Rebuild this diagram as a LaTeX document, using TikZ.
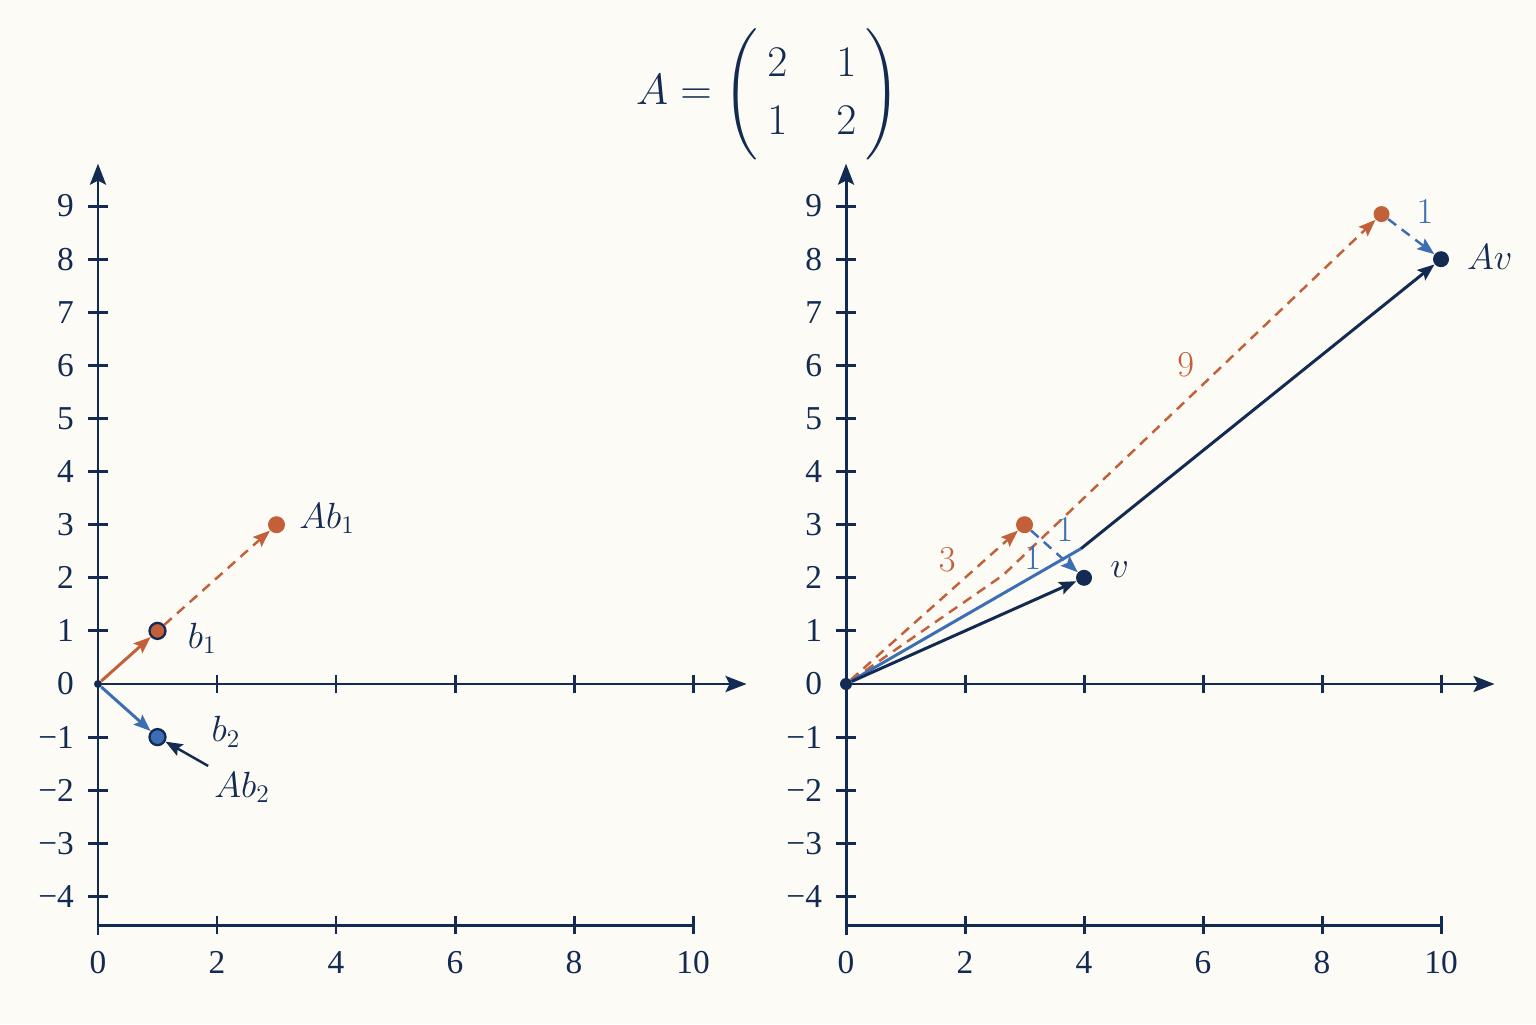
\documentclass[tikz,border=0pt]{standalone}
\usepackage{amsmath}
\usepackage{fontspec}
\usepackage{xcolor}
\usetikzlibrary{arrows.meta, positioning}
\newfontfamily\tickfont{Liberation Serif}
\definecolor{navy}{HTML}{132B52}
\definecolor{rust}{HTML}{C2603A}
\definecolor{steel}{HTML}{3C6EB4}
\definecolor{paper}{HTML}{FCFBF5}
\tikzset{
	panel/.style={shift={(#1,6.8)}, x=1.19cm, y=1.062cm},
	axis/.style={line width=1.7pt, draw=navy},
	axtip/.style={-{Stealth[length=0.42cm, width=0.32cm, inset=0.08cm]}},
	vec/.style={line width=1.7pt, -{Stealth[length=0.34cm, width=0.26cm, inset=0.06cm]}},
	dashvec/.style={vec, line width=1.4pt, dash pattern=on 0.2cm off 0.14cm},
	dot/.style={circle, inner sep=0pt, minimum size=#1},
	ticklab/.style={font=\tickfont\fontsize{19}{19}\selectfont, text=navy},
	veclab/.style={font=\fontsize{21}{21}\selectfont, text=navy},
	numlab/.style={font=\fontsize{20}{20}\selectfont},
}
\begin{document}
\begin{tikzpicture}
	\fill[paper] (0,0) rectangle (30.72,20.48);
	\useasboundingbox (0,0) rectangle (30.72,20.48);
	\node[font=\fontsize{32}{33}\selectfont, text=navy, inner sep=0pt] (title) at (15.36,18.6) {$A=\setlength\arraycolsep{14pt}\begin{pmatrix}\hspace{5pt}2&1\hspace{5pt}\\\hspace{5pt}1&2\hspace{5pt}\end{pmatrix}$};
	\foreach \p/\sx in {L/1.96, R/16.92} {
		\begin{scope}[panel=\sx]
			\coordinate (\p-o) at (0,0);
			\coordinate (\p-xend) at (10.9,0);
			\coordinate (\p-ytop) at (0,9.8);
			\coordinate (\p-ybot) at (0,-4.72);
			\coordinate (\p-b0) at (0,-4.54);
			\coordinate (\p-b10) at (10,-4.54);
			\draw[axis, axtip] (\p-o) -- (\p-xend);
			\draw[axis, axtip] (\p-ybot) -- (\p-ytop);
			\draw[axis] (\p-b0) -- (\p-b10);
			\foreach \y in {-4,-3,-2,-1,1,2,3,4,5,6,7,8,9}
				\draw[axis] (-0.16,\y) -- (0.16,\y);
			\foreach \y in {0,...,9}
				\node[ticklab, anchor=east] (\p-y\y) at (-0.3,\y) {\y};
			\foreach \y in {1,...,4}
				\node[ticklab, anchor=east] (\p-yn\y) at (-0.3,-\y) {−\y};
			\foreach \x in {2,4,...,10} {
				\draw[axis] (\x,-0.17) -- (\x,0.17);
				\draw[axis] (\x,-4.71) -- (\x,-4.37);
			}
			\foreach \x in {0,2,...,10}
				\node[ticklab] (\p-x\x) at (\x,-5.24) {\x};
		\end{scope}
	}
	\begin{scope}[panel=1.96]
		\node[dot=0.16cm, fill=navy] (L-0) at (0,0) {};
		\node[dot=0.32cm, fill=rust, draw=navy, line width=1.3pt] (b1) at (1,1) {};
		\node[dot=0.34cm, fill=rust] (Ab1) at (3,3) {};
		\node[dot=0.32cm, fill=steel, draw=navy, line width=1.3pt] (b2) at (1,-1) {};
		\draw[vec, rust] (L-0) -- (b1);
		\draw[dashvec, rust] (b1) -- (Ab1);
		\draw[vec, steel] (L-0) -- (b2);
		\node[veclab] (b1-lab) at (1.75,0.86) {$b_1$};
		\node[veclab] (Ab1-lab) at (3.85,3.12) {$Ab_1$};
		\node[veclab] (b2-lab) at (2.15,-0.9) {$b_2$};
		\node[veclab] (Ab2-lab) at (2.42,-1.95) {$Ab_2$};
		\draw[vec, navy, line width=1.4pt] (Ab2-lab.north west) -- (b2);
	\end{scope}
	\begin{scope}[panel=16.92]
		\node[dot=0.24cm, fill=navy] (R-0) at (0,0) {};
		\node[dot=0.32cm, fill=navy] (v) at (4,2) {};
		\node[dot=0.32cm, fill=navy] (Av) at (10,8) {};
		\node[dot=0.34cm, fill=rust] (p3) at (3,3) {};
		\node[dot=0.32cm, fill=rust] (p9) at (9,8.85) {};
		\coordinate (kink) at (2.64,2.05);
		\coordinate (join) at (3.95,2.55);
		\draw[dashvec, rust] (R-0) -- (p3);
		\draw[dashvec, rust] (R-0) -- (kink) -- (p9);
		\draw[line width=1.7pt, steel] (R-0) -- (join);
		\draw[vec, navy] (join) -- (Av);
		\draw[vec, navy] (R-0) -- (v);
		\draw[dashvec, steel] (p3) -- (v);
		\draw[dashvec, steel] (p9) -- (Av);
		\node[veclab] (v-lab) at (4.6,2.15) {$v$};
		\node[veclab] (Av-lab) at (10.82,8.04) {$Av$};
		\node[numlab, text=rust] (c3) at (1.7,2.34) {$3$};
		\node[numlab, text=rust] (c9) at (5.71,6.01) {$9$};
		\node[numlab, text=steel] (c1a) at (3.68,2.9) {$1$};
		\node[numlab, text=steel] (c1b) at (3.14,2.37) {$1$};
		\node[numlab, text=steel] (c1c) at (9.73,8.89) {$1$};
	\end{scope}
\end{tikzpicture}
\end{document}
